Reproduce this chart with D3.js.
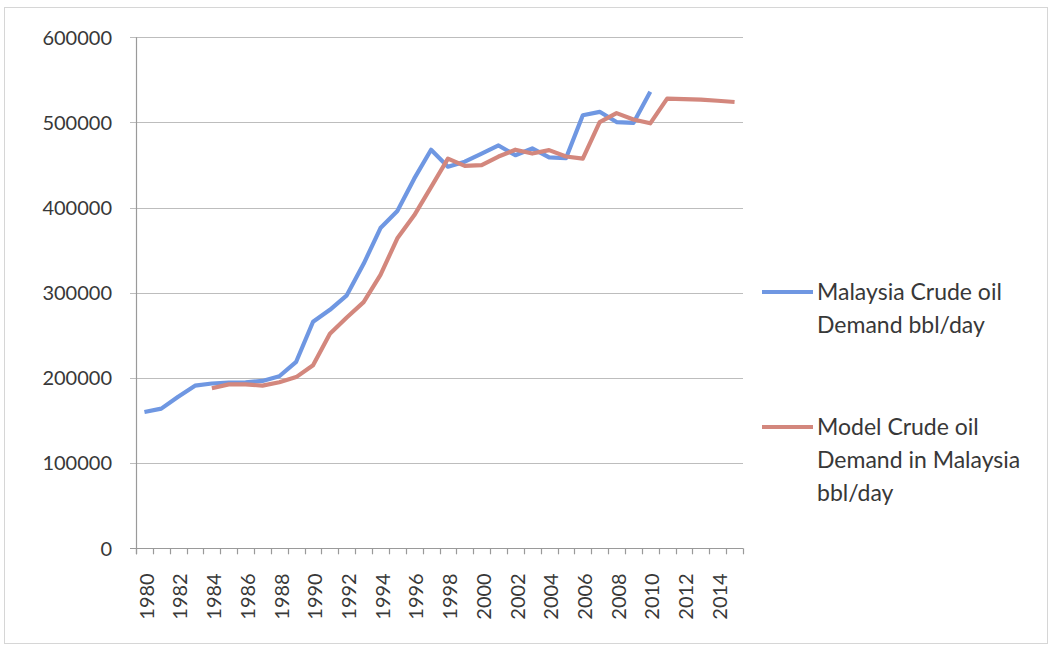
<!DOCTYPE html>
<html>
<head>
<meta charset="utf-8">
<script src="https://cdn.jsdelivr.net/npm/d3@7"></script>
<style>
  html, body { margin: 0; padding: 0; background: #fff; }
  svg text { font-family: Lato, "Open Sans", sans-serif; fill: #383838; }
</style>
</head>
<body>
<svg id="chart" width="1052" height="650"></svg>
<script>
// Years on the category axis
const years = d3.range(1980, 2016).map(String);

// Actual demand (bbl/day), 1980–2010
const actualDemand = [
  160000, 164000, 178000, 191000, 193500, 194500, 195000, 196500, 202000, 219000,
  266000, 280000, 297000, 334000, 376000, 396000, 434000, 468000, 448000, 454000,
  463500, 473000, 461500, 469500, 459000, 458000, 508500, 512500, 500500, 499500,
  536000, null, null, null, null, null
];

// Model demand (bbl/day), 1984–2015
const modelDemand = [
  null, null, null, null, 188000, 192500, 192500, 191000, 195000, 201000,
  215000, 252000, 271000, 289000, 321000, 364000, 391000, 424000, 457500, 449000,
  450000, 460000, 468000, 463500, 467500, 460000, 457500, 500500, 511000, 503500,
  499000, 528000, 527300, 526800, 525500, 524000
];

const yTicks = [0, 100000, 200000, 300000, 400000, 500000, 600000];
const xLabelYears = years.filter((d, i) => i % 2 === 0 && +d <= 2014);

const seriesNames = [
  ["Malaysia Crude oil", "Demand bbl/day"],
  ["Model Crude oil", "Demand in Malaysia", "bbl/day"]
];
const seriesColors = ["#6f97e2", "#d3877d"];

const svg = d3.select("#chart");

// Outer chart border
svg.append("rect")
  .attr("x", 4.5).attr("y", 7.5)
  .attr("width", 1043).attr("height", 636)
  .attr("fill", "none").attr("stroke", "#d6d6d6").attr("stroke-width", 1);

const plotLeft = 136, plotRight = 743, plotTop = 37.3, plotBottom = 548.3;

const x = d3.scaleBand().domain(years).range([plotLeft, plotRight]).padding(0);
const y = d3.scaleLinear().domain([0, 600000]).range([plotBottom, plotTop]);

// Horizontal gridlines with small left ticks
svg.append("g").selectAll("line")
  .data(yTicks)
  .join("line")
  .attr("x1", plotLeft - 6).attr("x2", plotRight)
  .attr("y1", d => Math.round(y(d)) + 0.5).attr("y2", d => Math.round(y(d)) + 0.5)
  .attr("stroke", d => d === 0 ? "#9a9a9a" : "#bdbdbd")
  .attr("stroke-width", 1.2);

// Vertical axis line
svg.append("line")
  .attr("x1", plotLeft + 0.5).attr("x2", plotLeft + 0.5)
  .attr("y1", plotTop).attr("y2", plotBottom + 6)
  .attr("stroke", "#9a9a9a").attr("stroke-width", 1.2);

// Y tick labels
svg.append("g").selectAll("text")
  .data(yTicks)
  .join("text")
  .attr("x", plotLeft - 24)
  .attr("y", d => y(d))
  .attr("dy", "0.36em")
  .attr("text-anchor", "end")
  .attr("font-size", 20)
  .text(d => d3.format("d")(d));

// X axis category-boundary ticks
const boundaries = years.map(d => x(d)).concat([plotRight]);
svg.append("g").selectAll("line")
  .data(boundaries)
  .join("line")
  .attr("x1", d => Math.round(d) + 0.5).attr("x2", d => Math.round(d) + 0.5)
  .attr("y1", plotBottom).attr("y2", plotBottom + 6)
  .attr("stroke", "#9a9a9a").attr("stroke-width", 1.2);

// Rotated year labels
svg.append("g").selectAll("text")
  .data(xLabelYears)
  .join("text")
  .attr("transform", d => `translate(${x(d) + x.bandwidth() / 2 + 2},${plotBottom + 25}) rotate(-90)`)
  .attr("dy", "0.36em")
  .attr("text-anchor", "end")
  .attr("font-size", 20)
  .text(d => d);

// Series lines
const line = d3.line()
  .defined(d => d.v != null)
  .x(d => x(d.year) + x.bandwidth() / 2)
  .y(d => y(d.v));

[actualDemand, modelDemand].forEach((vals, k) => {
  const pts = years.map((yr, i) => ({ year: yr, v: vals[i] }));
  svg.append("path")
    .datum(pts)
    .attr("d", line)
    .attr("fill", "none")
    .attr("stroke", seriesColors[k])
    .attr("stroke-width", 4.2)
    .attr("stroke-linejoin", "round");
});

// Legend
const legendRows = [292, 427];
seriesNames.forEach((lines, k) => {
  const g = svg.append("g");
  g.append("line")
    .attr("x1", 762).attr("x2", 813)
    .attr("y1", legendRows[k]).attr("y2", legendRows[k])
    .attr("stroke", seriesColors[k]).attr("stroke-width", 4);
  lines.forEach((t, j) => {
    g.append("text")
      .attr("x", 817)
      .attr("y", legendRows[k] + j * 33)
      .attr("dy", "0.36em")
      .attr("font-size", 23)
      .text(t);
  });
});
</script>
</body>
</html>
